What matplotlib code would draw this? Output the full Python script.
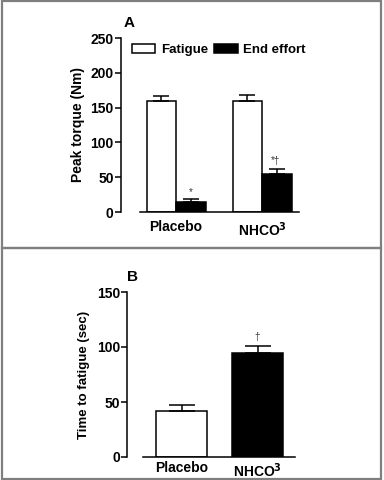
import numpy as np
import matplotlib.pyplot as plt
from matplotlib.patches import Rectangle

plt.rcParams['font.family'] = ['Liberation Sans', 'DejaVu Sans']
plt.rcParams['font.weight'] = 'bold'
plt.rcParams['axes.labelweight'] = 'bold'

# Painel A - torque de pico
grupos = ['Placebo', 'NHCO$^3$']
torque_fadiga = [160, 160]
torque_fadiga_ep = [7, 8]
torque_final = [15, 54]
torque_final_ep = [3, 8]
marcas_final = ['*', '*\u2020']

# Painel B - tempo até a fadiga
tempo_fadiga = [41.5, 95]
tempo_fadiga_ep = [5.5, 5.5]
marcas_tempo = ['', '\u2020']

fig = plt.figure(figsize=(3.84, 4.8), dpi=100)

def px(x, y):
    return x / 384, 1 - y / 480

# molduras cinzas
borda = dict(fill=False, edgecolor='#7f7f7f', linewidth=1.6, transform=fig.transFigure)
fig.add_artist(Rectangle(px(2, 248), 379 / 384, 247 / 480, **borda))
fig.add_artist(Rectangle(px(2, 479), 379 / 384, 231 / 480, **borda))

def estilo(ax, ymax, passo, deslocamento, pad_x):
    for s in ['top', 'right']:
        ax.spines[s].set_visible(False)
    for s in ['left', 'bottom']:
        ax.spines[s].set_linewidth(1.1)
    ax.spines['left'].set_position(('outward', deslocamento))
    ax.set_ylim(0, ymax)
    ax.set_yticks(np.arange(0, ymax + 1, passo))
    ax.tick_params(axis='y', length=4, width=1.1, labelsize=10, pad=1)
    ax.tick_params(axis='x', length=0, labelsize=10, pad=pad_x)

#%% Painel A
largura = 0.343
x = np.arange(len(grupos))
axA = fig.add_axes([140 / 384, 1 - 212 / 480, 159 / 384, 174 / 480])
axA.bar(x - largura / 2, torque_fadiga, largura, color='white', edgecolor='black', linewidth=1.1,
        yerr=[[0, 0], torque_fadiga_ep], capsize=5.5, error_kw=dict(elinewidth=1.1, capthick=1.1),
        label='Fatigue')
axA.bar(x + largura / 2, torque_final, largura, color='black', edgecolor='black', linewidth=1.1,
        yerr=[[0, 0], torque_final_ep], capsize=5.5, error_kw=dict(elinewidth=1.1, capthick=1.1),
        label='End effort')
for i, m in enumerate(marcas_final):
    axA.text(x[i] + largura / 2 - 0.02 * i, torque_final[i] + torque_final_ep[i] + 4, m,
             ha='center', va='bottom', fontsize=7, fontweight='normal', color='#333333')
axA.set_xlim(-0.419, 1.43)
axA.set_xticks(x)
axA.set_xticklabels(grupos)
estilo(axA, 250, 50, 14, 6)
axA.set_ylabel('Peak torque (Nm)', fontsize=10, labelpad=4)
axA.legend(loc='upper left', bbox_to_anchor=px(125, 37), bbox_transform=fig.transFigure,
           ncol=2, frameon=False, fontsize=9.5, handlelength=1.8, handleheight=0.7,
           columnspacing=0.5, handletextpad=0.4, borderpad=0)
fig.text(*px(129, 23), 'A', fontsize=11, fontweight='bold', ha='center', va='center')

#%% Painel B
larguraB = 0.67
axB = fig.add_axes([143 / 384, 1 - 457 / 480, 152 / 384, 165 / 480])
axB.bar(x, tempo_fadiga, larguraB, color=['white', 'black'], edgecolor='black', linewidth=1.1,
        yerr=[[0, 0], tempo_fadiga_ep], capsize=9.4, error_kw=dict(elinewidth=1.1, capthick=1.1))
for i, m in enumerate(marcas_tempo):
    axB.text(x[i], tempo_fadiga[i] + tempo_fadiga_ep[i] + 4, m,
             ha='center', va='bottom', fontsize=7, fontweight='normal', color='#333333')
axB.set_xlim(-0.507, 1.493)
axB.set_xticks(x)
axB.set_xticklabels(grupos)
estilo(axB, 150, 50, 11.5, 3)
axB.set_ylabel('Time to fatigue (sec)', fontsize=9.5, labelpad=5)
fig.text(*px(133, 277), 'B', fontsize=11, fontweight='bold', ha='center', va='center')

fig.savefig('out.png', dpi=100)
